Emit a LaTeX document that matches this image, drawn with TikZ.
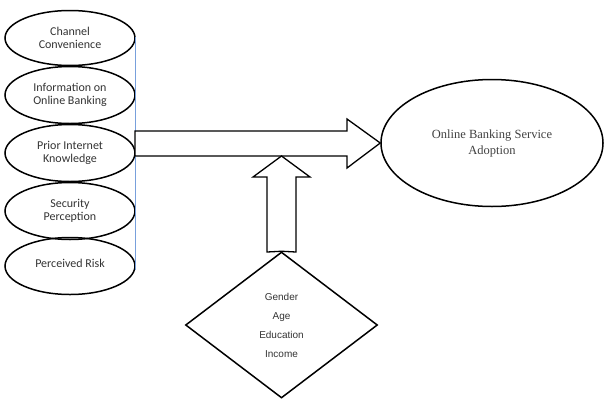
\documentclass[tikz,border=0pt]{standalone}
\usepackage{fontspec}
\setmainfont{Liberation Serif}
\newfontfamily\factorfont{Carlito}
\newfontfamily\moderatorfont{Liberation Sans}
\usepackage{tikz}
\usetikzlibrary{shapes.geometric}
\definecolor{lineBlue}{RGB}{120,160,220}
\tikzset{
factor/.style = {ellipse, draw=black, line width=1.5pt, minimum width=130pt,
                 minimum height=#1, inner sep=0pt, align=center, text=black!80,
                 font=\factorfont\fontsize{12}{13}\selectfont},
factor/.default = 57pt, % height of the ellipse
blockarrow/.style = {draw=black, line width=1.3pt, fill=white, line join=miter}
}

\begin{document}
\begin{tikzpicture}[x=1pt,y=-1pt]
  \useasboundingbox (0,0) rectangle (604,399);

  % Factors
    \node[factor=55pt] (convEll) at (70,38) {Channel\\Convenience};
    \node[factor] (infoEll) at (70,95) {Information on\\Online Banking};
    \node[factor] (priorEll) at (70,153) {Prior Internet\\Knowledge};
    \node[factor] (secEll) at (70,211) {Security\\Perception};
    \node[factor] (riskEll) at (70,266) {\raisebox{6pt}{Perceived Risk}};

  % Blue line
    \coordinate (lineTop) at (135,37);
    \coordinate (lineBot) at (135,270);
    \draw[lineBlue, line width=1pt] (lineTop) -- (lineBot);

  % Outcome
    \node[ellipse, draw, line width=1.5pt, minimum width=222pt, minimum height=127pt,
          inner sep=0pt, align=center, text=black!75,
          font=\fontsize{12.5}{16}\selectfont] (adoptEll) at (492,143)
          {Online Banking Service\\Adoption};

  % Moderators
    \node[diamond, draw, line width=1.5pt, minimum width=192pt, minimum height=146pt,
          aspect=1.3, inner sep=0pt, align=center, text=black!80,
          font=\moderatorfont\fontsize{10}{19}\selectfont] (modDiamond) at (281.5,325)
          {Gender\\Age\\Education\\Income};

  % Block arrows
    \draw[blockarrow] (135,131) -- (347,131) -- (347,119) -- (adoptEll.west)
      -- (347,168) -- (347,156) -- (135,156) -- cycle;
    \draw[blockarrow] (modDiamond.north) -- (267,252) -- (267,177) -- (253,177)
      -- (281.5,156) -- (310,177) -- (296,177) -- (296,252) -- cycle;
\end{tikzpicture}
\end{document}
